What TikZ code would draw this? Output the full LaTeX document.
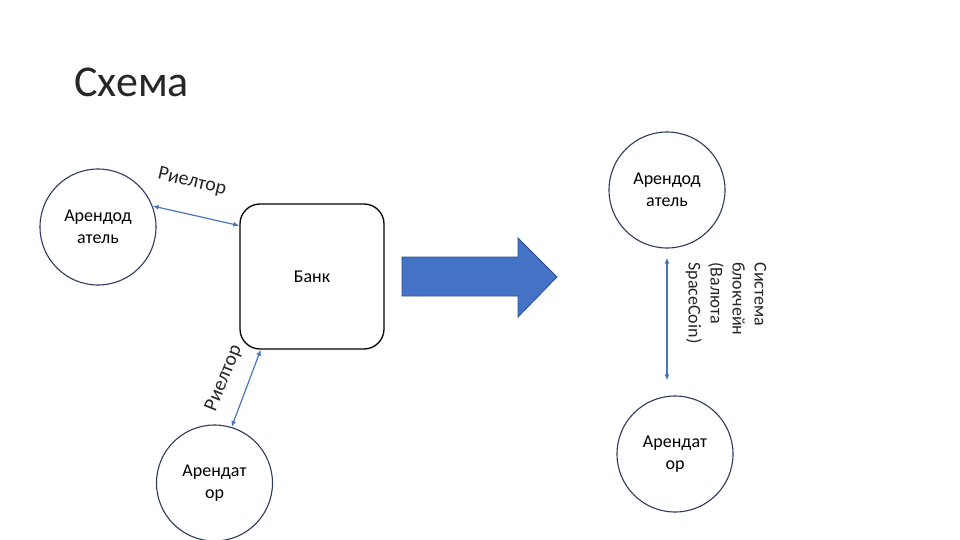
\documentclass[tikz,border=0pt]{standalone}
\usepackage{fontspec}
\setmainfont{Carlito}
\usepackage{tikz}
\usetikzlibrary{%
	arrows.meta,%
	calc
}
\definecolor{link-blue}{RGB}{74,118,184}
\definecolor{ring-navy}{RGB}{46,58,92}
\definecolor{block-blue}{RGB}{68,114,196}
\definecolor{block-edge}{RGB}{47,82,143}

\begin{document}
\begin{tikzpicture}[x=1pt, y=-1pt,
		party/.style={circle, draw=ring-navy, line width=1.1pt, minimum size=116pt, inner sep=0pt, align=center, font=\fontsize{18}{22}\selectfont},
		link/.style={link-blue, line width=1.2pt, {Latex[length=6pt,width=5pt]}-{Latex[length=6pt,width=5pt]}},
		tag/.style={font=\fontsize{20}{24}\selectfont, text=black!85}
	]
		\useasboundingbox (0,0) rectangle (960,540);
		
		\node[anchor=base west, font=\fontsize{44}{50}\selectfont, text=black!85] (title) at (71,97) {Схема};
		
		\node[party] (lessorL) at (98,227) {Арендод\\атель};
		\node[party] (tenantL) at (214.5,483) {Арендат\\ор};
		\node[draw, line width=1.3pt, rounded corners=20pt, minimum width=144pt, minimum height=145pt, font=\fontsize{18}{22}\selectfont] (bank) at (312,276.5) {Банк};
		
		\draw[link] (lessorL.21) -- (bank.145);
		\draw[link] (bank.235) -- (tenantL.73);
		\node[tag, rotate=-13] (agentTop) at (192,182) {Риелтор};
		\node[tag, rotate=68] (agentBot) at (224,378) {Риелтор};
		
		% move to blockchain
		\filldraw[fill=block-blue, draw=block-edge, line width=0.8pt] (402,257) -- (518,257) -- (518,238) -- (557,277) -- (518,317) -- (518,296) -- (402,296) -- cycle;
		
		\node[party] (lessorR) at (667,190) {Арендод\\атель};
		\node[party] (tenantR) at (675,454) {Арендат\\ор};
		\draw[link, shorten <=9pt, shorten >=15pt] (lessorR.south) -- (lessorR.south |- tenantR.north);
		\node[rotate=-90, align=left, font=\fontsize{18}{22}\selectfont, text=black!85] (chain) at (726,303) {Система\\блокчейн\\(Валюта\\SpaceCoin)};

	\end{tikzpicture}
\end{document}
